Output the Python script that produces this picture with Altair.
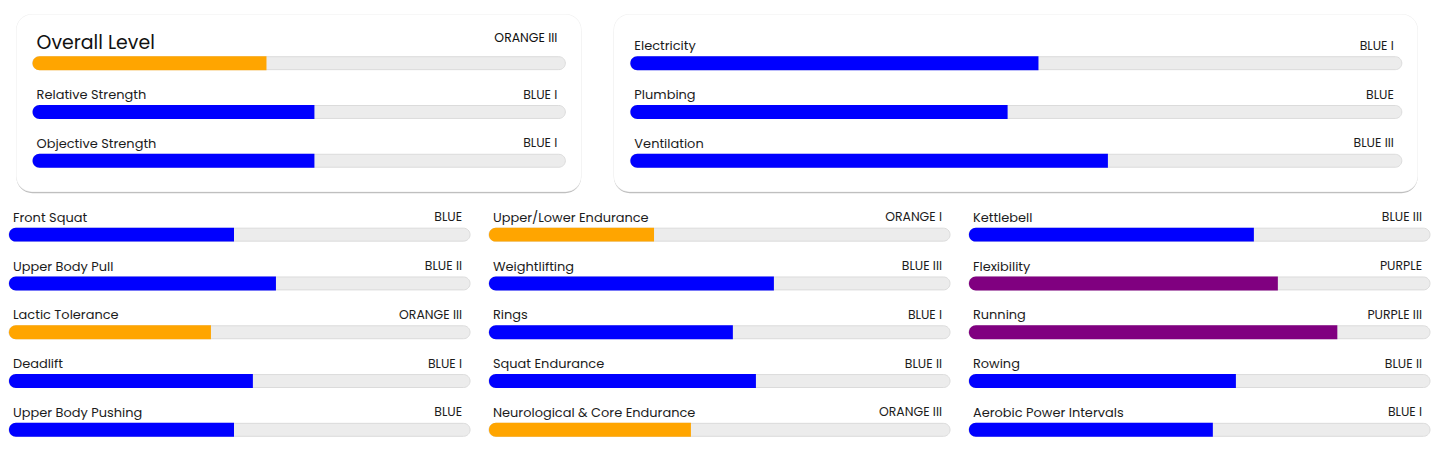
import altair as alt
import pandas as pd

# ---------------- data ----------------
card1_names = ["Overall Level", "Relative Strength", "Objective Strength"]
card1_levels = ["ORANGE III", "BLUE I", "BLUE I"]
card1_values = [43.9, 52.9, 52.9]

card2_names = ["Electricity", "Plumbing", "Ventilation"]
card2_levels = ["BLUE I", "BLUE", "BLUE III"]
card2_values = [52.9, 48.9, 61.9]

col1_names = ["Front Squat", "Upper Body Pull", "Lactic Tolerance", "Deadlift", "Upper Body Pushing"]
col1_levels = ["BLUE", "BLUE II", "ORANGE III", "BLUE I", "BLUE"]
col1_values = [48.8, 57.9, 43.8, 52.9, 48.8]

col2_names = ["Upper/Lower Endurance", "Weightlifting", "Rings", "Squat Endurance",
              "Neurological & Core Endurance"]
col2_levels = ["ORANGE I", "BLUE III", "BLUE I", "BLUE II", "ORANGE III"]
col2_values = [35.8, 61.8, 52.9, 57.9, 43.8]

col3_names = ["Kettlebell", "Flexibility", "Running", "Rowing", "Aerobic Power Intervals"]
col3_levels = ["BLUE III", "PURPLE", "PURPLE III", "BLUE II", "BLUE I"]
col3_values = [61.8, 67.0, 79.9, 57.9, 52.9]

hue_names = ["ORANGE", "BLUE", "PURPLE"]
hue_colors = ["#FFA500", "#0000FF", "#800080"]

FONT = "Poppins, 'Open Sans', sans-serif"
TEXT = "#1c1c1c"
STEP = 49


def panel(names, levels, values, width, height, top, track_a, track_b,
          header=None, card=None):
    """track_a / track_b: pixel start / end of the 0..100 track inside the view."""
    df = pd.DataFrame({"name": names, "level": levels, "value": values})
    n = len(names)
    p = (height / STEP - (n - 1)) / 2
    align = top / (height - (n - 1) * STEP)
    span = track_b - track_a
    lo = -track_a / span * 100
    hi = lo + width / span * 100
    xs = alt.Scale(domain=[lo, hi], nice=False, zero=False)
    ys = alt.Scale(type="point", domain=names, padding=p, align=align)

    base = alt.Chart(df).transform_calculate(
        zero="0", full="100", hue="split(datum.level, ' ')[0]"
    ).encode(y=alt.Y("name:N", scale=ys, axis=None))

    track = base.mark_bar(height=13, cornerRadius=6.5, fill="#ECECEC",
                          stroke="#DBDBDB", strokeWidth=1).encode(
        x=alt.X("zero:Q", scale=xs, axis=None), x2="full:Q")
    fill = base.mark_bar(height=14, cornerRadiusTopLeft=7, cornerRadiusBottomLeft=7).encode(
        x=alt.X("zero:Q", scale=xs, axis=None), x2="value:Q",
        color=alt.Color("hue:N", scale=alt.Scale(domain=hue_names, range=hue_colors), legend=None))

    not_header = "datum.name != '%s'" % (header or "")
    left = base.transform_filter(not_header).mark_text(
        align="left", baseline="alphabetic", dx=4, dy=-13, fontSize=13, font=FONT, color=TEXT
    ).encode(x=alt.X("zero:Q", scale=xs, axis=None), text="name:N")
    right = base.transform_filter(not_header).mark_text(
        align="right", baseline="alphabetic", dx=-8, dy=-13.5, fontSize=12.5, font=FONT, color=TEXT
    ).encode(x=alt.X("full:Q", scale=xs, axis=None), text="level:N")

    layers = []
    if card is not None:
        c0, c1 = card
        one = pd.DataFrame({"k": [0]})
        shadow = alt.Chart(one).mark_rect(cornerRadius=16, fill="#bfbfbf").encode(
            x=alt.value(c0 + 0.5), x2=alt.value(c1 - 0.5),
            y=alt.value(2), y2=alt.value(height))
        outline = alt.Chart(one).mark_rect(cornerRadius=16, fill="#efefef").encode(
            x=alt.value(c0), x2=alt.value(c1),
            y=alt.value(0), y2=alt.value(height - 1.2))
        white = alt.Chart(one).mark_rect(cornerRadius=15.5, fill="white").encode(
            x=alt.value(c0 + 0.6), x2=alt.value(c1 - 0.6),
            y=alt.value(0.6), y2=alt.value(height - 1.7))
        layers += [shadow, outline, white]
    layers += [track, fill, left, right]
    if header:
        is_header = "datum.name == '%s'" % header
        htitle = base.transform_filter(is_header).mark_text(
            align="left", baseline="alphabetic", dx=4, dy=-14.5, fontSize=19, font=FONT, color="#111"
        ).encode(x=alt.X("zero:Q", scale=xs, axis=None), text="name:N")
        hlevel = base.transform_filter(is_header).mark_text(
            align="right", baseline="alphabetic", dx=-8, dy=-21.5, fontSize=12.5,
            font=FONT, color="#111"
        ).encode(x=alt.X("full:Q", scale=xs, axis=None), text="level:N")
        layers += [htitle, hlevel]

    return alt.layer(*layers).properties(width=width, height=height)


TOP_W = 1415
card1 = panel(card1_names, card1_levels, card1_values, TOP_W, 180, 49.5, 23.7, 558.7,
              header="Overall Level", card=(7, 575))
card2 = panel(card2_names, card2_levels, card2_values, TOP_W, 180, 49.5, 624.0, 1398.7,
              card=(607, 1415))
top_row = alt.layer(card1, card2).resolve_scale(x="independent", y="independent")

c1 = panel(col1_names, col1_levels, col1_values, 463, 236, 31.7, 0, 463)
c2 = panel(col2_names, col2_levels, col2_values, 463, 236, 31.7, 0, 463)
c3 = panel(col3_names, col3_levels, col3_values, 463, 236, 31.7, 0, 463)
bottom_row = alt.hconcat(c1, c2, c3, spacing=17)

chart = alt.vconcat(top_row, bottom_row, spacing=10).properties(
    padding={"left": 0, "top": 5, "right": 0, "bottom": 0},
    background="white",
).configure_view(strokeWidth=0)

chart.save("out.html", embed_options={"renderer": "svg", "actions": False})
